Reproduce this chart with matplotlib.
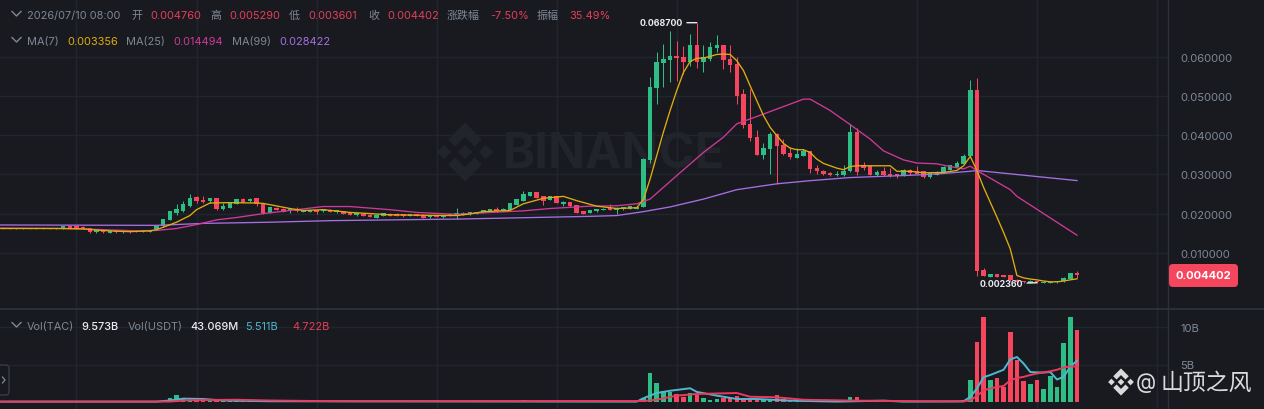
import matplotlib
matplotlib.use("Agg")
import matplotlib.pyplot as plt
from matplotlib.patches import Polygon, FancyBboxPatch

# ---------- data ----------
opens = [.0163,.0163,.0161,.0163,.0163,.0161,.0163,.0161,.0161,.0162,
 .0168,.0168,.0167,.0162,.0152,.0157,.0151,.0157,.0152,.0156,
 .0153,.0153,.0154,.0161,.0168,.0184,.0202,.0207,.0220,.0242,
 .0235,.0232,.0239,.0211,.0215,.0225,.0237,.0231,.0239,.0224,
 .0202,.0215,.0213,.0207,.0212,.0205,.0205,.0209,.0206,.0210,
 .0203,.0206,.0203,.0196,.0200,.0197,.0190,.0195,.0200,.0200,
 .0199,.0195,.0199,.0197,.0191,.0196,.0191,.0195,.0197,.0197,
 .0198,.0199,.0202,.0205,.0211,.0207,.0210,.0222,.0233,.0245,
 .0255,.0245,.0235,.0245,.0224,.0229,.0222,.0206,.0202,.0206,
 .0209,.0215,.0209,.0211,.0212,.0212,.0218,.0337,.0521,.0585,
 .0592,.0602,.0600,.0586,.0629,.0586,.0594,.0622,.0630,.0594,
 .0582,.0505,.0429,.0395,.0350,.0365,.0403,.0376,.0355,.0343,
 .0348,.0359,.0316,.0309,.0304,.0298,.0298,.0308,.0409,.0324,
 .0322,.0299,.0308,.0301,.0301,.0298,.0311,.0308,.0308,.0293,
 .0299,.0305,.0311,.0320,.0327,.0346,.0515,.0057,.0039,.0045,
 .0043,.0043,.0031,.0028,.0024,.0028,.0024,.0024,.0025,.0027,
 .0034,.00476]
closes = [.0161,.0161,.0163,.0161,.0161,.0163,.0161,.0163,.0163,.0168,
 .0162,.0162,.0162,.0152,.0157,.0152,.0156,.0152,.0156,.0152,
 .0156,.0156,.0157,.0169,.0186,.0206,.0212,.0224,.0241,.0233,
 .0230,.0239,.0211,.0219,.0229,.0237,.0230,.0238,.0224,.0202,
 .0216,.0210,.0205,.0212,.0207,.0209,.0209,.0205,.0211,.0205,
 .0208,.0200,.0197,.0202,.0194,.0192,.0197,.0201,.0194,.0194,
 .0193,.0199,.0194,.0190,.0196,.0192,.0196,.0200,.0202,.0202,
 .0203,.0204,.0208,.0211,.0206,.0212,.0226,.0237,.0250,.0254,
 .0241,.0233,.0245,.0227,.0230,.0219,.0202,.0200,.0208,.0211,
 .0213,.0209,.0215,.0217,.0219,.0218,.0339,.0524,.0588,.0594,
 .0602,.0596,.0586,.0629,.0586,.0599,.0626,.0630,.0592,.0580,
 .0501,.0427,.0392,.0350,.0368,.0403,.0372,.0352,.0344,.0351,
 .0360,.0314,.0308,.0301,.0299,.0302,.0309,.0407,.0307,.0316,
 .0299,.0307,.0298,.0296,.0295,.0311,.0303,.0301,.0293,.0304,
 .0305,.0318,.0323,.0330,.0346,.0515,.0054,.0042,.0045,.0039,
 .0039,.0030,.0025,.0025,.0028,.0025,.0026,.0026,.0027,.0036,
 .0048,.004402]
highs = [.0164,.0164,.0164,.0164,.0164,.0164,.0164,.0164,.0164,.0169,
 .0169,.0169,.0168,.0164,.0158,.0158,.0157,.0158,.0157,.0157,
 .0157,.0157,.0158,.0170,.0187,.0207,.0224,.0233,.0249,.0245,
 .0245,.0240,.0240,.0228,.0230,.0238,.0239,.0239,.0240,.0225,
 .0217,.0218,.0214,.0213,.0218,.0210,.0210,.0210,.0212,.0211,
 .0209,.0207,.0204,.0203,.0201,.0198,.0198,.0202,.0201,.0201,
 .0200,.0200,.0200,.0198,.0197,.0197,.0197,.0201,.0215,.0203,
 .0204,.0205,.0210,.0212,.0216,.0214,.0227,.0238,.0258,.0256,
 .0256,.0246,.0246,.0246,.0233,.0230,.0223,.0207,.0209,.0212,
 .0214,.0224,.0216,.0218,.0220,.0219,.0342,.0548,.0613,.0633,
 .0666,.0641,.0628,.0658,.0687,.0630,.0637,.0656,.0630,.0630,
 .0600,.0518,.0518,.0414,.0380,.0408,.0405,.0390,.0369,.0368,
 .0365,.0360,.0325,.0310,.0307,.0308,.0324,.0429,.0418,.0331,
 .0323,.0310,.0320,.0316,.0302,.0313,.0313,.0322,.0309,.0306,
 .0308,.0322,.0325,.0333,.0352,.0542,.0546,.0060,.0047,.0047,
 .0044,.0044,.0032,.0029,.0030,.0029,.0029,.0027,.0028,.0037,
 .0049,.00529]
lows = [.0160,.0160,.0160,.0160,.0160,.0160,.0160,.0160,.0160,.0161,
 .0161,.0161,.0161,.0150,.0151,.0151,.0150,.0151,.0151,.0151,
 .0152,.0152,.0153,.0160,.0167,.0183,.0197,.0204,.0218,.0227,
 .0226,.0226,.0210,.0210,.0214,.0224,.0228,.0230,.0219,.0198,
 .0201,.0208,.0204,.0202,.0205,.0204,.0204,.0198,.0205,.0204,
 .0202,.0199,.0196,.0195,.0193,.0191,.0189,.0194,.0193,.0193,
 .0192,.0194,.0193,.0189,.0190,.0191,.0190,.0194,.0186,.0196,
 .0197,.0198,.0201,.0204,.0205,.0206,.0209,.0221,.0232,.0244,
 .0240,.0222,.0234,.0226,.0220,.0218,.0201,.0199,.0201,.0205,
 .0208,.0208,.0200,.0210,.0211,.0211,.0216,.0330,.0480,.0522,
 .0535,.0539,.0556,.0577,.0571,.0562,.0590,.0611,.0569,.0560,
 .0480,.0418,.0386,.0350,.0339,.0300,.0276,.0350,.0340,.0341,
 .0346,.0304,.0302,.0298,.0297,.0297,.0296,.0307,.0298,.0312,
 .0298,.0297,.0296,.0294,.0290,.0296,.0298,.0300,.0292,.0291,
 .0298,.0304,.0310,.0319,.0326,.0345,.0040,.0040,.0038,.0038,
 .0038,.0029,.0024,.0024,.0024,.00236,.0024,.0024,.0024,.0026,
 .0033,.003601]
volumes = [.05,.05,.04,.05,.05,.04,.05,.04,.04,.06,
 .05,.05,.05,.08,.06,.05,.05,.05,.05,.05,
 .04,.04,.05,.09,.12,.5,.94,.55,.3,.25,
 .15,.12,.25,.12,.14,.14,.1,.08,.16,.2,
 .12,.08,.08,.06,.07,.06,.06,.05,.06,.05,
 .05,.06,.05,.05,.05,.05,.05,.05,.05,.05,
 .05,.05,.05,.05,.05,.05,.05,.06,.12,.06,
 .06,.06,.08,.09,.08,.08,.16,.18,.22,.14,
 .14,.1,.08,.12,.07,.09,.14,.07,.07,.07,
 .06,.08,.06,.06,.06,.06,.5,3.85,2.55,1.5,
 1.3,1.07,.7,1.2,1.0,.6,.27,.4,.5,.5,
 .75,.5,.4,.3,.4,.4,.95,.4,.18,.27,
 .18,.27,.15,.1,.1,.08,.1,.65,.65,.27,
 .2,.12,.15,.12,.15,.12,.15,.15,.2,.1,
 .06,.12,.1,.12,.3,2.95,7.95,11.3,3.0,3.2,
 2.0,9.4,5.6,2.8,2.45,3.0,1.8,3.5,2.05,7.9,
 11.3,9.573]

ma7_x = [-1,8,12,14,17,19,22,23,24,26,28,29,31,34,38,39,43,45,48,52,58,62,68,70,72,76,78,81,84,86,89,92,95,
 96,97,98,99,100,101,102,103,104,105,106,107,108,109,110,111,112,113,114,115,116,117,118,119,120,121,122,123,124,125,126,
 127,128,129,133,134,136,138,141,143,144,145,146,147,148,149,150,151,152,153,154,155,156,157,158,159,160,161]
ma7_y = [.0162,.0162,.0161,.0158,.0155,.0154,.0156,.0159,.0165,.0178,.0195,.0210,.0227,.0228,.0227,.0226,.0213,.0208,.0210,.0203,.0197,.0196,.0195,.0199,.0205,.0208,.0225,.0239,.0244,.0233,.0219,.0213,.0215,
 .0236,.0288,.0348,.0408,.0463,.0514,.0560,.0588,.0596,.0597,.0601,.0606,.0607,.0606,.0590,.0565,.0526,.0488,.0450,.0420,.0399,.0379,.0367,.0363,.0363,.0356,.0339,.0328,.0322,.0316,.0312,
 .0320,.0322,.0322,.0322,.0308,.0308,.0304,.0305,.0310,.0322,.0346,.0310,.0267,.0229,.0191,.0152,.0110,.0042,.0036,.0033,.0031,.0028,.0026,.0026,.0028,.0031,.003356]

ma25_x = [-1,10,20,23,26,29,32,35,39,44,48,52,58,62,68,72,78,82,88,92,95,97,101,105,108,110,114,120,121,124,127,130,132,135,137,140,142,144,145,146,151,152,161]
ma25_y = [.0163,.0162,.0156,.0157,.0162,.0172,.0184,.0190,.0200,.0210,.0218,.0218,.0210,.0203,.0198,.0202,.0207,.0213,.0219,.0220,.0225,.0237,.0297,.0356,.0395,.0429,.0454,.0492,.0492,.0463,.0427,.0390,.0360,.0337,.0329,.0327,.0320,.0314,.0321,.0310,.0261,.0244,.014494]

ma99_x = [-1,23,30,40,49,68,88,92,96,100,105,110,116,121,127,135,140,145,146,161]
ma99_y = [.0171,.0170,.0175,.0178,.0182,.0186,.0193,.0195,.0205,.0217,.0237,.0261,.0276,.0284,.0292,.0297,.0301,.0308,.0310,.028422]

volma5_x = [-1,23,25,27,30,33,40,95,96,98,100,103,104,107,110,113,118,125,132,135,143,144,145,146,147,148,149,150,151,152,153,154,155,156,157,158,159,160,161]
volma5_y = [.05,.05,.2,.45,.4,.2,.1,.05,.5,1.2,1.5,1.83,1.35,.85,.4,.4,.18,.05,.18,.05,.08,.1,.67,1.8,3.3,3.6,3.95,4.3,5.67,6.0,5.13,4.0,3.95,3.93,4.0,3.0,3.35,4.7,5.511]
volma10_x = [-1,25,28,35,40,50,96,98,101,104,110,112,116,120,128,140,144,145,146,147,148,149,150,151,152,153,154,155,156,157,158,159,160,161]
volma10_y = [.05,.06,.25,.3,.2,.1,.13,.3,.85,1.07,1.2,.7,.63,.3,.18,.09,.08,.22,.8,1.56,1.8,2.0,2.14,2.9,3.2,3.35,3.6,3.8,3.95,4.1,4.3,4.6,4.75,4.722]

price_ticks = [.01,.02,.03,.04,.05,.06]
vol_ticks = [5,10]
vol_tick_labels = ['5B','10B']
x_grid = [11,29,47,65,83,101,119,137,155,173]

header = "2026/07/10 08:00"
# ---------- style ----------
BG='#181A20'; GRID='#22252B'; SEP='#2B3139'; GREEN='#2EBD85'; RED='#F6465D'
TXT='#7F8895'; TRED='#E63E58'; YEL='#E2AC0E'; PINK='#D0399A'; PUR='#A66FE2'; TEAL='#4FB8D0'; VRED='#E93A5F'
W,H=1264,410
plt.rcParams['font.family']=['Inter','Noto Sans CJK SC','DejaVu Sans']
fig=plt.figure(figsize=(W/100,H/100),dpi=100,facecolor=BG)

def rect(l,t,r,b):
    return [l/W,1-b/H,(r-l)/W,(b-t)/H]

under=fig.add_axes([0,0,1,1],zorder=-1); under.set_xlim(0,W); under.set_ylim(H,0); under.axis('off')
ax=fig.add_axes(rect(0,0,1168,310),zorder=1); ax.patch.set_alpha(0)
vx=fig.add_axes(rect(0,310,1168,410),zorder=1,sharex=ax); vx.patch.set_alpha(0)
ov=fig.add_axes([0,0,1,1],zorder=5); ov.set_xlim(0,W); ov.set_ylim(H,0); ov.axis('off'); ov.patch.set_alpha(0)

def logo(a,cx,cy,s,color,z=1):
    a.add_patch(Polygon([(cx,cy-.2*s),(cx+.2*s,cy),(cx,cy+.2*s),(cx-.2*s,cy)],fc=color,ec='none',zorder=z))
    a.add_patch(Polygon([(cx-.78*s,cy),(cx-.58*s,cy-.2*s),(cx-.38*s,cy),(cx-.58*s,cy+.2*s)],fc=color,ec='none',zorder=z))
    a.add_patch(Polygon([(cx+.78*s,cy),(cx+.58*s,cy-.2*s),(cx+.38*s,cy),(cx+.58*s,cy+.2*s)],fc=color,ec='none',zorder=z))
    a.add_patch(Polygon([(cx,cy-.82*s),(cx+.47*s,cy-.35*s),(cx+.27*s,cy-.15*s),(cx,cy-.42*s),(cx-.27*s,cy-.15*s),(cx-.47*s,cy-.35*s)],fc=color,ec='none',zorder=z))
    a.add_patch(Polygon([(cx,cy+.82*s),(cx+.47*s,cy+.35*s),(cx+.27*s,cy+.15*s),(cx,cy+.42*s),(cx-.27*s,cy+.15*s),(cx-.47*s,cy+.35*s)],fc=color,ec='none',zorder=z))

# big watermark
WM='#21242B'
logo(under,465,153,36,WM)
under.text(503,155,'BINANCE',color=WM,fontsize=35,fontweight='bold',va='center',ha='left',family='Inter')

# scales: 39.2 px per 0.01 and 7.5 px per 1B
ax.set_ylim((293-310)/3920,293/3920)
vx.set_ylim((403-410)/7.5,(403-310)/7.5)
ax.set_xlim(-0.465,174.65)

n=len(opens)
xs=list(range(n))
cols=[GREEN if c>=o else RED for o,c in zip(opens,closes)]
ax.vlines(xs,lows,highs,colors=cols,linewidth=0.72,zorder=2)
ax.bar(xs,[max(abs(c-o),.00025) for o,c in zip(opens,closes)],bottom=[min(o,c) for o,c in zip(opens,closes)],width=.68,color=cols,linewidth=0,zorder=3)
ax.plot(ma99_x,ma99_y,color=PUR,lw=.95,zorder=4)
ax.plot(ma25_x,ma25_y,color=PINK,lw=.95,zorder=5)
ax.plot(ma7_x,ma7_y,color=YEL,lw=.95,zorder=6)

vx.bar(xs,volumes,width=.68,color=cols,linewidth=0,zorder=3)
vx.plot(volma5_x,volma5_y,color=TEAL,lw=1.4,zorder=4)
vx.plot(volma10_x,volma10_y,color=VRED,lw=1.4,zorder=5)

for a,ticks in ((ax,price_ticks),(vx,vol_ticks)):
    a.set_xticks(x_grid)
    a.set_yticks(ticks)
    a.grid(True,color=GRID,lw=1)
    a.set_axisbelow(True)
    a.yaxis.tick_right()
    a.tick_params(length=0,labelbottom=False,labelcolor=TXT,labelsize=8.05,pad=9)
    for s in a.spines.values(): s.set_visible(False)
    a.spines['right'].set_visible(True); a.spines['right'].set_color(SEP); a.spines['right'].set_linewidth(1)
ax.set_yticklabels([f'{t:.6f}' for t in price_ticks])
vx.set_yticklabels(vol_tick_labels)

# pane separator
ov.plot([0,W],[310,310],color=SEP,lw=1.4,zorder=1)

# header texts
def T(x,y,s,c=TXT,fs=7.9,**k):
    ov.text(x,y,s,color=c,fontsize=fs,va='center',ha='left',**k)
def chev(y):
    ov.plot([12,16.5,21],[y-2.5,y+2,y-2.5],color=TXT,lw=1)
chev(15); chev(41); chev(326)
T(27,16,header)
T(131,16,'开'); T(150,16,'0.004760',TRED)
T(210,16,'高'); T(229,16,'0.005290',TRED)
T(289,16,'低'); T(308,16,'0.003601',TRED)
T(368,16,'收'); T(387,16,'0.004402',TRED)
T(447,16,'涨跌幅'); T(490,16,'-7.50%',TRED)
T(537,16,'振幅'); T(569,16,'35.49%',TRED)
T(27,42,'MA(7)'); T(67,42,'0.003356',YEL)
T(126,42,'MA(25)'); T(173,42,'0.014494',PINK)
T(232,42,'MA(99)'); T(279,42,'0.028422',PUR)
T(27,327,'Vol(TAC)'); T(81,327,'9.573B','#EAECEF',fontweight='medium')
T(128,327,'Vol(USDT)'); T(190,327,'43.069M','#EAECEF',fontweight='medium')
T(245,327,'5.511B',TEAL); T(292,327,'4.722B',TRED)

# high / low markers
hi=highs.index(max(highs)); lo=lows.index(min(lows))
ax.annotate(f'{highs[hi]:.6f}',xy=(hi,highs[hi]),xytext=(-14,0),textcoords='offset pixels',ha='right',va='center',
            color='#EAECEF',fontsize=6.4,fontweight='bold',zorder=8,
            arrowprops=dict(arrowstyle='-',color='#EAECEF',lw=1,shrinkA=1,shrinkB=0))
ax.annotate(f'{lows[lo]:.6f}',xy=(lo,lows[lo]),xytext=(-14,-1),textcoords='offset pixels',ha='right',va='center',
            color='#EAECEF',fontsize=6.4,fontweight='bold',zorder=8,
            arrowprops=dict(arrowstyle='-',color='#EAECEF',lw=1,shrinkA=1,shrinkB=0))

# price tag
ov.add_patch(FancyBboxPatch((1172,268),63,17,boxstyle='round,pad=3,rounding_size=4',fc=RED,ec='none',zorder=3))
ov.text(1203.5,276.5,f'{closes[-1]:.6f}',color='white',fontsize=8,fontweight='bold',ha='center',va='center',zorder=4)

# collapse button
ov.add_patch(FancyBboxPatch((-6,366),15,30,boxstyle='round,pad=0,rounding_size=3',fc=BG,ec='#3A3F47',lw=.9,zorder=3))
ov.plot([2.5,5,2.5],[378,381,384],color=TXT,lw=.9,zorder=4)

# bottom right signature
logo(ov,1121,383,16.5,'#DADADA',z=6)
ov.text(1136,383,'@',color='#DADADA',fontsize=15,va='center',ha='left',zorder=6)
ov.text(1161,383.5,'山顶之风',color='#DADADA',fontsize=16.5,va='center',ha='left',zorder=6,family='Noto Sans CJK SC')

fig.savefig('out.png',dpi=100,facecolor=BG)
